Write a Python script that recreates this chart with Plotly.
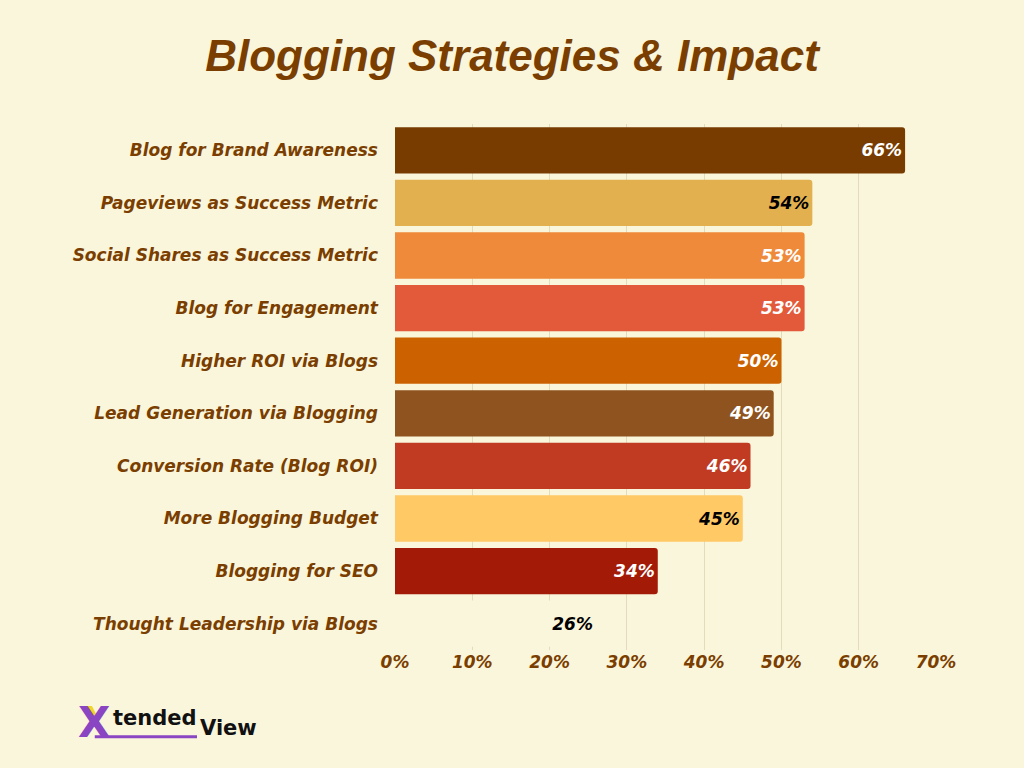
import plotly.graph_objects as go

categories = [
    "Blog for Brand Awareness",
    "Pageviews as Success Metric",
    "Social Shares as Success Metric",
    "Blog for Engagement",
    "Higher ROI via Blogs",
    "Lead Generation via Blogging",
    "Conversion Rate (Blog ROI)",
    "More Blogging Budget",
    "Blogging for SEO",
    "Thought Leadership via Blogs",
]
values = [66, 54, 53, 53, 50, 49, 46, 45, 34, 26]
bar_colors = ["#783C00", "#E2B04E", "#EF8A3A", "#E25A3A", "#CC6100",
              "#8E531E", "#C03B22", "#FFC966", "#A31B07", "#FAF6DC"]
label_colors = ["white", "black", "white", "white", "white",
                "white", "white", "black", "white", "black"]
tick_vals = [0, 10, 20, 30, 40, 50, 60, 70]
tick_text = [f"{v}%" for v in tick_vals]

BG = "#FAF6DC"
BROWN = "#7A3E00"
FONT = "DejaVu Sans"

fig = go.Figure(go.Bar(
    x=values,
    y=categories,
    orientation="h",
    marker=dict(color=bar_colors, cornerradius=3, line=dict(width=0)),
    text=[f"{v}%" for v in values],
    textposition="inside",
    insidetextanchor="end",
    textfont=dict(family=FONT, size=17, color=label_colors, weight="bold", style="italic"),
    cliponaxis=False,
    hoverinfo="skip",
))

fig.update_layout(
    width=1024, height=768,
    paper_bgcolor=BG, plot_bgcolor=BG,
    margin=dict(l=395, r=88, t=124, b=118),
    bargap=0.12,
    showlegend=False,
    title=dict(
        text="Blogging Strategies & Impact",
        x=0.5, xanchor="center", y=0.928, yanchor="middle",
        font=dict(family="Liberation Sans", size=44, color=BROWN, weight="bold", style="italic"),
    ),
    xaxis=dict(
        range=[0, 70], tickvals=tick_vals, ticktext=tick_text,
        showgrid=True, gridcolor="#E3DBBC", gridwidth=1,
        zeroline=False, showline=False, ticks="",
        tickfont=dict(family=FONT, size=17, color=BROWN, weight="bold", style="italic"),
        fixedrange=True,
    ),
    yaxis=dict(
        autorange="reversed", showgrid=False, zeroline=False, ticks="",
        ticklabelstandoff=16,
        tickfont=dict(family=FONT, size=17, color=BROWN, weight="bold", style="italic"),
        fixedrange=True,
    ),
)

# Logo
fig.add_annotation(xref="paper", yref="paper", x=-0.59, y=-0.137, xanchor="left", yanchor="middle",
                   text="X", showarrow=False,
                   font=dict(family="DejaVu Sans", size=42, color="#8A45C2", weight="bold"))
fig.add_shape(type="path", xref="paper", yref="paper",
              path="M -0.5712 -0.1065 L -0.5601 -0.1065 L -0.5508 -0.1255 L -0.5416 -0.1065 "
                   "L -0.5342 -0.1065 L -0.5508 -0.1407 Z",
              fillcolor="#F2D32A", line=dict(width=0))
fig.add_annotation(xref="paper", yref="paper", x=-0.525, y=-0.129, xanchor="left", yanchor="middle",
                   text="tended", showarrow=False,
                   font=dict(family="DejaVu Sans", size=21, color="#111111", weight="bold"))
fig.add_annotation(xref="paper", yref="paper", x=-0.365, y=-0.149, xanchor="left", yanchor="middle",
                   text="View", showarrow=False,
                   font=dict(family="DejaVu Sans", size=21, color="#111111", weight="bold"))
fig.add_shape(type="line", xref="paper", yref="paper", x0=-0.555, x1=-0.366, y0=-0.165, y1=-0.165,
              line=dict(color="#8A45C2", width=3))

fig.write_html("out.html", config={"displayModeBar": False},
               post_script="document.body.style.margin='0';document.body.style.overflow='hidden';")
